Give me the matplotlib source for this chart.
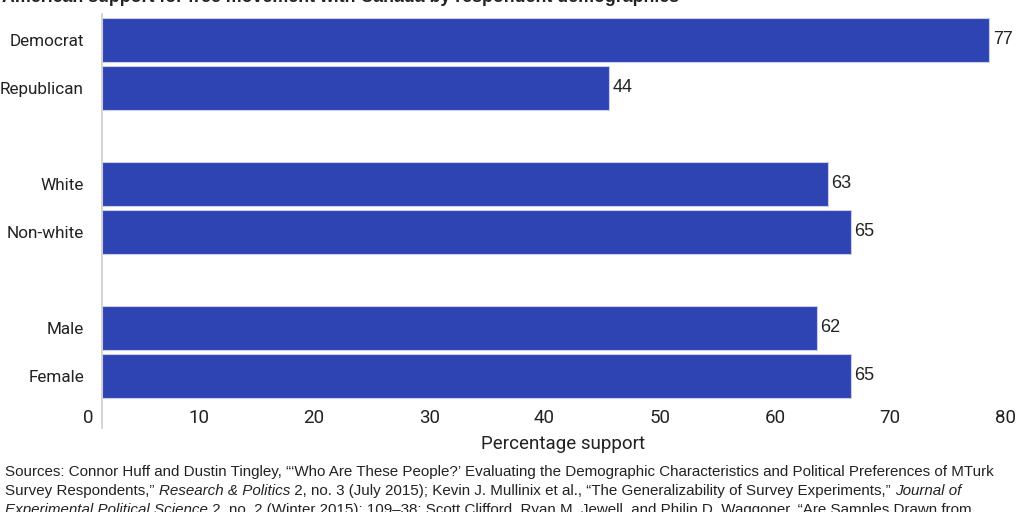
import matplotlib
matplotlib.use("Agg")
import matplotlib.pyplot as plt

# Data
categories = ["Democrat", "Republican", "White", "Non-white", "Male", "Female"]
support = [77, 44, 63, 65, 62, 65]
positions = [0, 1, 3, 4, 6, 7]
x_ticks = [0, 10, 20, 30, 40, 50, 60, 70, 80]

title = "American support for free movement with Canada by respondent demographics"
source_lines = [
    [("Sources: Connor Huff and Dustin Tingley, \u201c\u2018Who Are These People?\u2019 Evaluating the Demographic "
      "Characteristics and Political Preferences of MTurk", "normal")],
    [("Survey Respondents,\u201d ", "normal"), ("Research & Politics", "italic"),
     (" 2, no. 3 (July 2015); Kevin J. Mullinix et al., \u201cThe Generalizability of Survey Experiments,\u201d ", "normal"),
     ("Journal of", "italic")],
    [("Experimental Political Science", "italic"),
     (" 2, no. 2 (Winter 2015): 109\u201338; Scott Clifford, Ryan M. Jewell, and Philip D. Waggoner, "
      "\u201cAre Samples Drawn from", "normal")],
]

BAR = "#2e44b2"
TXT = "#222222"
W, H = 1024, 512

fig = plt.figure(figsize=(W / 100, H / 100), dpi=100)
ax = fig.add_axes([102 / W, 1 - 400 / H, 1 - 102 / W, (400 - 14) / H])

ax.barh(positions, support, height=0.92, color=BAR, edgecolor="#c9cdeb", linewidth=0.8)
for p, v in zip(positions, support):
    ax.text(v + 0.3, p, str(v), va="center", ha="left", fontsize=13,
            family="Liberation Sans", color=TXT)

ax.set_yticks(positions, labels=categories)
ax.set_xticks(x_ticks, labels=[])
ax.set_xlim(0, 80)
ax.set_ylim(7.5, -0.54)
for lab in ax.get_yticklabels():
    lab.set_fontfamily("Roboto")
    lab.set_fontsize(12.3)
    lab.set_color(TXT)

# x tick labels sit right-aligned a few pixels left of their value
for t in x_ticks:
    ax.annotate(str(t), xy=(t, 0), xycoords=("data", "axes fraction"),
                xytext=(-8, -9), textcoords="offset pixels",
                ha="right", va="top", fontsize=13.5, family="Roboto",
                color=TXT, annotation_clip=False)

ax.tick_params(length=0)
ax.tick_params(axis="y", pad=13)
for s in ["top", "right", "bottom", "left"]:
    ax.spines[s].set_visible(False)
ax.axvline(0, ymin=-0.073, ymax=1, color="#cccccc", linewidth=1.2, clip_on=False)

ax.set_xlabel("Percentage support", fontsize=13.5, family="Roboto", color=TXT, labelpad=22)

fig.text(2 / W, 1 - 1.5 / H, title, fontsize=12.8, fontweight="bold", family="Liberation Sans",
         color=TXT, ha="left", va="baseline")

# source note with mixed italic pieces
fig.canvas.draw()
renderer = fig.canvas.get_renderer()
line_y = [476, 495, 514]
for pieces, ly in zip(source_lines, line_y):
    x = 5
    for txt, style in pieces:
        t = fig.text(x / W, 1 - ly / H, txt, fontsize=10.9, family="Liberation Sans",
                     style=style, color=TXT, ha="left", va="baseline")
        bb = t.get_window_extent(renderer)
        x += bb.width

fig.savefig("out.png", dpi=100)
